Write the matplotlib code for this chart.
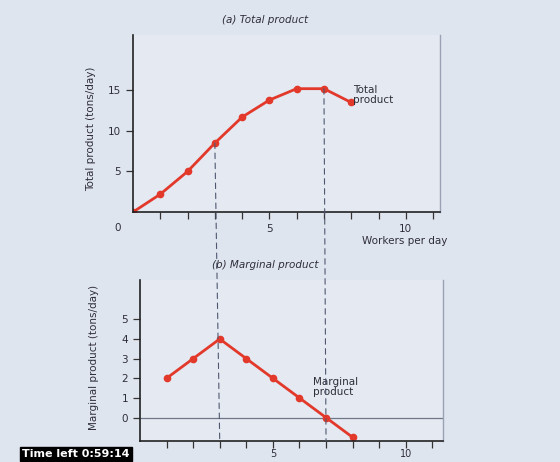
"""
    Gráfico: produto total e produto marginal por número de trabalhadores
"""
import matplotlib.pyplot as plt
from matplotlib.patches import ConnectionPatch

# dados
trabalhadores = [0, 1, 2, 3, 4, 5, 6, 7, 8]
produto_total = [0, 2.2, 5, 8.5, 11.7, 13.8, 15.2, 15.2, 13.5]
trab_marginal = [1, 2, 3, 4, 5, 6, 7, 8]
produto_marginal = [2, 3, 4, 3, 2, 1, 0, -1]
ticks_x = list(range(1, 12))
ticks_total = [5, 10, 15]
ticks_marginal = [0, 1, 2, 3, 4, 5]

fundo = '#dfe5ef'
vermelho = '#e2392b'
texto = '#2e2e38'
tracejado = '#4f5870'

fig = plt.figure(figsize=(5.6, 4.62), dpi=100, facecolor=fundo)

ax1 = fig.add_axes([0.2375, 0.541, 0.548, 0.383])
ax2 = fig.add_axes([0.25, 0.045, 0.541, 0.349])

for ax in (ax1, ax2):
    ax.set_facecolor('#e4e9f2')
    ax.spines['top'].set_visible(False)
    ax.spines['right'].set_color('#9aa2b4')
    ax.spines['right'].set_linewidth(1.0)
    ax.spines['left'].set_color('#222')
    ax.spines['bottom'].set_color('#222')
    ax.spines['left'].set_linewidth(1.2)
    ax.spines['bottom'].set_linewidth(1.2)
    ax.set_xticks(ticks_x)
    ax.set_xticklabels(['5' if t == 5 else '10' if t == 10 else '' for t in ticks_x])
    ax.tick_params(direction='out', length=5, width=0.9, colors='#333',
                   labelsize=7.5, labelcolor=texto)

# (a) produto total
ax1.plot(trabalhadores, produto_total, color=vermelho, lw=2, marker='o', ms=4.5)
ax1.set_xlim(0, 11.25)
ax1.set_ylim(0, 21.8)
ax1.set_yticks(ticks_total)
ax1.set_ylabel('Total product (tons/day)', fontsize=7.5, color=texto)
ax1.yaxis.set_label_coords(-0.12, 0.47)
ax1.text(8.05, 15.6, 'Total\nproduct', fontsize=7.5, color=texto, va='top', ha='left',
         linespacing=1.0)

# (b) produto marginal
ax2.axhline(0, color='#6f7787', lw=0.9)
ax2.plot(trab_marginal, produto_marginal, color=vermelho, lw=2, marker='o', ms=4.5)
ax2.set_xlim(0, 11.4)
ax2.set_ylim(-1.2, 7.0)
ax2.set_yticks(ticks_marginal)
ax2.tick_params(axis='x', pad=0.5, labelsize=7)
ax2.set_ylabel('Marginal product (tons/day)', fontsize=7.5, color=texto)
ax2.yaxis.set_label_coords(-0.135, 0.52)
ax2.text(6.5, 2.05, 'Marginal\nproduct', fontsize=7.5, color=texto, va='top', ha='left',
         linespacing=1.0)

# linhas tracejadas ligando os dois painéis
for x in (3, 7):
    con = ConnectionPatch(xyA=(x, produto_total[x]), coordsA=ax1.transData,
                          xyB=(x, -1.2), coordsB=ax2.transData,
                          color=tracejado, lw=0.8, linestyle=(0, (5, 4)))
    fig.add_artist(con)

fig.text(0.473, 1 - 20 / 462, '(a) Total product', fontsize=7.5, style='italic',
         color=texto, ha='center', va='center')
fig.text(0.473, 1 - 265 / 462, '(b) Marginal product', fontsize=7.5, style='italic',
         color=texto, ha='center', va='center')
fig.text(405 / 560, 1 - 241 / 462, 'Workers per day', fontsize=7.5, color=texto,
         ha='center', va='center')
fig.text(118 / 560, 1 - 228 / 462, '0', fontsize=7.5, color=texto,
         ha='center', va='center')
fig.text(0.04, 0.006, 'Time left 0:59:14', fontsize=8, fontweight='bold', color='white',
         ha='left', va='bottom',
         bbox=dict(boxstyle='square,pad=0.2', fc='black', ec='black'))

plt.savefig('out.png', dpi=100, facecolor=fundo)
